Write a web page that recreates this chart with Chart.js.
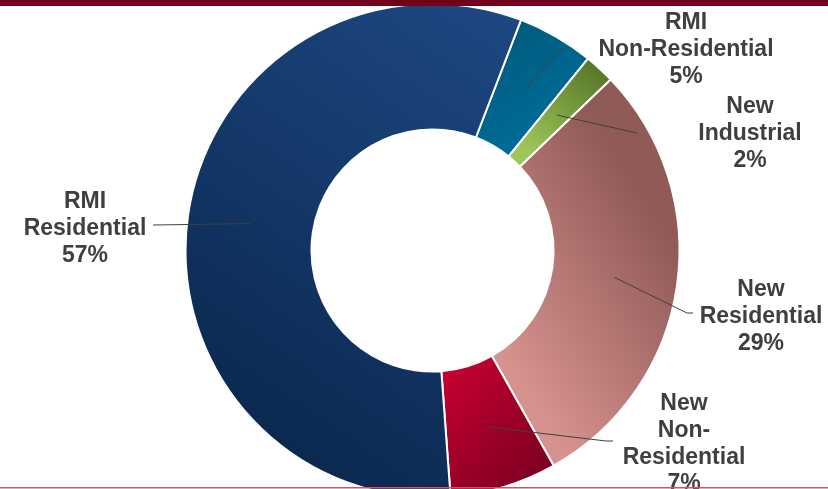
<!DOCTYPE html>
<html>
<head>
<meta charset="utf-8">
<script src="https://cdn.jsdelivr.net/npm/chart.js@4"></script>
<style>
  html, body { margin: 0; padding: 0; background: #fff; overflow: hidden; }
  #wrap { position: relative; width: 828px; height: 489px; }
</style>
</head>
<body>
<div id="wrap"><canvas id="chart" width="828" height="489"></canvas></div>
<script>
// market split, clockwise from the top
const categories = [
  ['RMI', 'Non-Residential'],
  ['New', 'Industrial'],
  ['New', 'Residential'],
  ['New', 'Non-', 'Residential'],
  ['RMI', 'Residential']
];
const shares = [5, 2, 29, 7, 57];

// gradient per slice: colours and end points as fractions of the outer radius
const shades = [
  { c0: '#005677', c1: '#0074a5', p0: [0.2, -0.95], p1: [0.6, -0.35] },
  { c0: '#5a7a2a', c1: '#a0c65a', p0: [0.6, -0.78], p1: [0.32, -0.45] },
  { c0: '#d6928f', c1: '#905a57', p0: [0.3, 0.45], p1: [1.0, 0.0] },
  { c0: '#c50030', c1: '#76001f', p0: [0.05, 0.5], p1: [0.5, 0.92] },
  { c0: '#0b2950', c1: '#1d4782', p0: [-0.75, 0.7], p1: [0.35, -0.9] }
];

const RADIUS = 247;

function sliceFill(c) {
  const chart = c.chart;
  const area = chart.chartArea;
  if (!area) return shades[c.dataIndex].c0;
  const cx = (area.left + area.right) / 2;
  const cy = (area.top + area.bottom) / 2;
  const s = shades[c.dataIndex];
  const g = chart.ctx.createLinearGradient(
    cx + s.p0[0] * RADIUS, cy + s.p0[1] * RADIUS,
    cx + s.p1[0] * RADIUS, cy + s.p1[1] * RADIUS);
  g.addColorStop(0, s.c0);
  g.addColorStop(1, s.c1);
  return g;
}

// callout text + leader line for every slice
const calloutPlugin = {
  id: 'callouts',
  afterDatasetsDraw(chart, args, opts) {
    const ctx = chart.ctx;
    const arcs = chart.getDatasetMeta(0).data;
    ctx.save();
    ctx.strokeStyle = '#404040';
    ctx.lineWidth = 1;
    arcs.forEach((arc, i) => {
      const spot = opts.spots[i];
      const p = arc.tooltipPosition(true);
      ctx.beginPath();
      ctx.moveTo(p.x, p.y);
      spot.path.forEach(pt => ctx.lineTo(pt[0], pt[1]));
      ctx.stroke();
    });
    ctx.fillStyle = '#3f3f3f';
    ctx.font = 'bold 23px "Liberation Sans", Arial, sans-serif';
    ctx.textAlign = 'center';
    ctx.textBaseline = 'middle';
    arcs.forEach((arc, i) => {
      const spot = opts.spots[i];
      const lines = categories[i].concat(shares[i] + '%');
      lines.forEach((t, k) => ctx.fillText(t, spot.x, spot.y + k * 26.7));
    });
    ctx.restore();
  },
  afterDraw(chart) {
    const ctx = chart.ctx;
    ctx.save();
    ctx.fillStyle = '#72001a';
    ctx.fillRect(0, 0, chart.width, 6);
    ctx.fillStyle = '#c9546e';
    ctx.fillRect(0, 487, chart.width, 1.5);
    ctx.restore();
  }
};

new Chart(document.getElementById('chart'), {
  type: 'doughnut',
  data: {
    labels: categories,
    datasets: [{
      data: shares,
      backgroundColor: sliceFill,
      borderColor: '#ffffff',
      borderWidth: 2
    }]
  },
  options: {
    responsive: false,
    animation: false,
    rotation: 21,
    radius: RADIUS,
    cutout: '49%',
    layout: { padding: { left: 37, right: 0, top: 12, bottom: 0 } },
    plugins: {
      legend: { display: false },
      tooltip: { enabled: false },
      callouts: {
        spots: [
          { x: 686, y: 23, path: [[559, 50], [565, 50]] },
          { x: 750, y: 107, path: [[637, 133]] },
          { x: 761, y: 290, path: [[687, 313], [693, 313]] },
          { x: 684, y: 404, path: [[606, 441], [613, 441]] },
          { x: 85, y: 202, path: [[153, 225]] }
        ]
      }
    }
  },
  plugins: [calloutPlugin]
});
</script>
</body>
</html>
